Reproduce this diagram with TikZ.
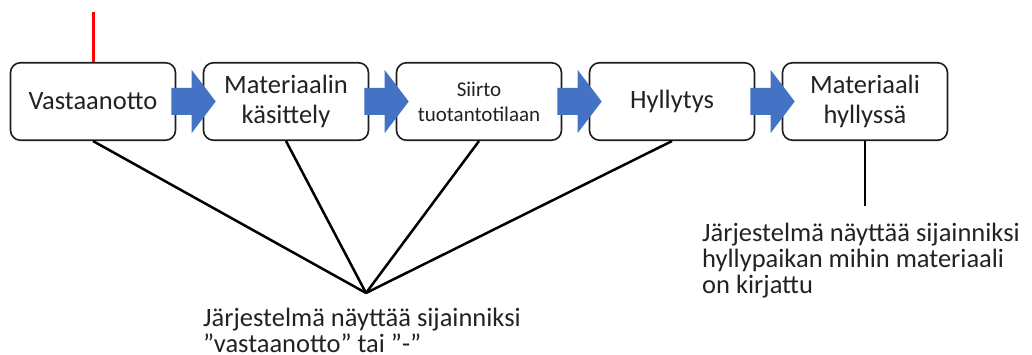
\documentclass[tikz,border=0pt]{standalone}
\usepackage{fontspec}
\setmainfont{Carlito}
\usetikzlibrary{calc}
\definecolor{flowblue}{HTML}{4472C4}
\definecolor{inkgray}{HTML}{222222}
\definecolor{edgegray}{HTML}{1E1E1E}
\tikzset{
  stage/.style={draw=edgegray, line width=1.6pt, rounded corners=10pt, fill=white,
    minimum width=165pt, minimum height=77.5pt, inner sep=0pt, align=center,
    text=inkgray, font=\fontsize{26.5}{30}\selectfont},
  smallstage/.style={stage, font=\fontsize{21}{25}\selectfont},
  note/.style={inner sep=0pt, align=left, text=inkgray, font=\fontsize{26.5}{26}\selectfont},
  link/.style={line width=2.5pt, black},
  marker/.style={line width=3pt, red}
}
% block arrow from the right side of #1 into the left side of #2
\newcommand\flowarrow[2]{%
  \fill[flowblue]
    ($(#1.east)+(-5,-13.5)$) -- ($(#2.west)+(-11,-13.5)$) -- ($(#2.west)+(-11,-31.5)$)
    -- ($(#2.west)+(13,0)$)
    -- ($(#2.west)+(-11,31.5)$) -- ($(#2.west)+(-11,13.5)$) -- ($(#1.east)+(-5,13.5)$) -- cycle;}
\begin{document}
\begin{tikzpicture}[x=1pt,y=-1pt]
\useasboundingbox (0,0) rectangle (1032,355);

% process stages
\node[stage]      (s1) at (93,101.5)  {Vastaanotto};
\node[stage]      (s2) at (286,101.5) {Materiaalin\\käsittely};
\node[smallstage] (s3) at (479,101.5) {Siirto\\tuotantotilaan};
\node[stage]      (s4) at (672,101.5) {Hyllytys};
\node[stage]      (s5) at (865,101.5) {Materiaali\\hyllyssä};

% arrows between stages
\flowarrow{s1}{s2}
\flowarrow{s2}{s3}
\flowarrow{s3}{s4}
\flowarrow{s4}{s5}

% red marker above the first stage
\coordinate (mtop) at (93,12);
\draw[marker] (mtop) -- (s1.north);

% notes
\node[note, anchor=north west] (n1) at (203,308) {Järjestelmä näyttää sijainniksi\\”vastaanotto” tai ”-”};
\node[note, anchor=north west] (n2) at (702,223) {Järjestelmä näyttää sijainniksi\\hyllypaikan mihin materiaali\\on kirjattu};

\coordinate (meet) at (366,293);
\coordinate (n2top) at (865,206);
\foreach \s in {s1,s2,s3,s4}
  \draw[link] (\s.south) -- (meet);
\draw[link] (s5.south) -- (n2top);
\end{tikzpicture}
\end{document}
